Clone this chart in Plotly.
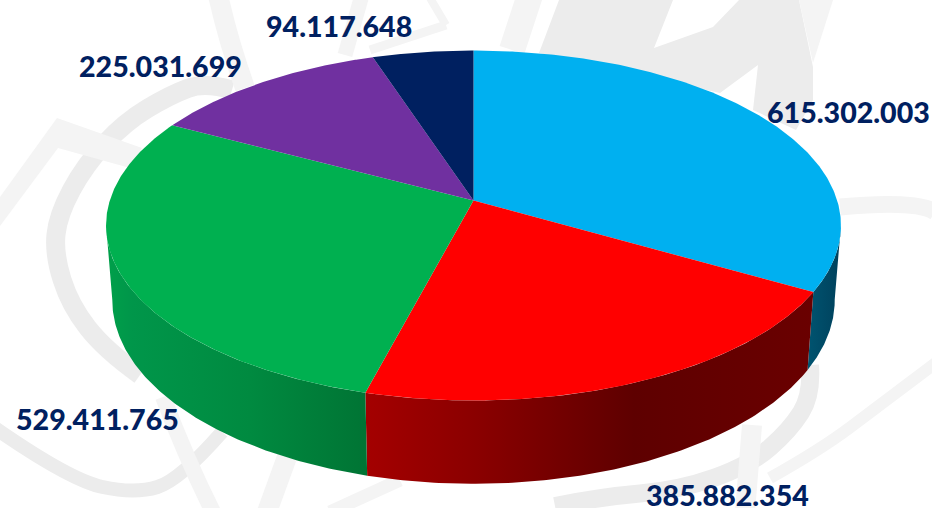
import numpy as np
import plotly.graph_objects as go

# ---- data ----
categories = ["A", "B", "C", "D", "E"]
values = [615302003, 385882354, 529411765, 225031699, 94117648]

# ---- styles ----
top_colors = ["#00B0F0", "#FF0000", "#00B050", "#7030A0", "#002060"]
wall_scales = [
    [[0, "#005470"], [0.5, "#004A66"], [1, "#00415C"]],
    [[0, "#A40000"], [0.25, "#8A0000"], [0.6, "#5E0000"], [1, "#6A0000"]],
    [[0, "#00A04A"], [0.1, "#00964A"], [0.55, "#008A40"], [1, "#007434"]],
    [[0, "#4A2070"], [1, "#4A2070"]],
    [[0, "#001540"], [1, "#001540"]],
]
label_xy = [(848, 112), (727, 495), (97, 419), (160, 66), (339, 26)]
text_color = "#002060"

# ---- projection of the tilted disc onto the page ----
CX, CY = 473.5, 200.5
BX, AY, K = 363.7, 171.4, -1 / 7
WALL_SX, WALL_SY, WALL_DY = 0.983, 1.05, 73.4
VIS_FROM, VIS_TO = 98.0, 262.0


def top_xy(deg):
    t = np.radians(deg)
    u, v = np.sin(t), -np.cos(t)
    d = 1 + K * v
    return CX + BX * u / d, CY + AY * v / d


def low_xy(deg):
    x, y = top_xy(deg)
    return CX + WALL_SX * (x - CX), CY + WALL_DY + WALL_SY * (y - CY)


# ---- faint background watermark (decoration) ----
E8, F0 = "#ECECEC", "#F4F4F4"
bands = [
    (E8, 19, [(140, 375), (105, 350), (70, 305), (54, 254), (58, 215), (85, 165), (125, 122), (170, 95), (205, 82), (232, 90)]),
    (F0, 20, [(218, -5), (228, 40), (245, 88)]),
    (F0, 15, [(362, -5), (345, 55)]),
    (F0, 9, [(446, 25), (370, 50)]),
    (F0, 8, [(430, -2), (446, 25)]),
    (F0, 26, [(530, -5), (512, 50)]),
    (F0, 17, [(840, 207), (916, 200), (935, 212)]),
    (E8, 14, [(-5, 428), (70, 480), (135, 494), (180, 480), (222, 432)]),
    (F0, 16, [(163, 397), (187, 460), (213, 512)]),
    (F0, 20, [(287, 457), (267, 512)]),
    (F0, 13, [(400, 480), (330, 512)]),
    (E8, 18, [(810, 365), (812, 395), (790, 430), (750, 465), (680, 490), (600, 497), (555, 506)]),
    (F0, 12, [(937, 362), (880, 405), (820, 450), (770, 478)]),
    (F0, 20, [(752, 425), (745, 512)]),
]
blobs = [
    (E8, [(559, 0), (539, 53), (720, 93), (758, 65), (753, 110), (796, 130), (813, 100), (813, 67), (799, 0), (739, 0), (713, 27), (654, 48), (673, 0)]),
    (F0, [(799, 0), (833, 0), (813, 63)]),
    (F0, [(0, 197), (57, 118), (142, 148), (130, 168), (58, 148), (0, 226)]),
]


def smooth_path(pts):
    if len(pts) == 2:
        return f"M{pts[0][0]},{pts[0][1]} L{pts[1][0]},{pts[1][1]}"
    p = f"M{pts[0][0]},{pts[0][1]}"
    for i in range(1, len(pts) - 1):
        mx = (pts[i][0] + pts[i + 1][0]) / 2
        my = (pts[i][1] + pts[i + 1][1]) / 2
        if i == len(pts) - 2:
            mx, my = pts[i + 1]
        p += f" Q{pts[i][0]},{pts[i][1]} {mx},{my}"
    return p


shapes = [
    dict(type="path", path=smooth_path(pts), line=dict(color=c, width=w), layer="below", xref="x", yref="y")
    for c, w, pts in bands
]
shapes += [
    dict(type="path", path="M" + " L".join(f"{x},{y}" for x, y in pts) + " Z",
         fillcolor=c, line=dict(width=0), layer="below", xref="x", yref="y")
    for c, pts in blobs
]

# ---- slices, derived from the values ----
total = sum(values)
edges = np.concatenate([[0], np.cumsum(values) / total * 360])

fig = go.Figure()

# side walls first
for i in range(len(values)):
    a0, a1 = max(edges[i], VIS_FROM), min(edges[i + 1], VIS_TO)
    if a1 <= a0:
        continue
    ts = np.linspace(a0, a1, 120)
    tx, ty = top_xy(ts)
    bx, by = low_xy(ts)
    fig.add_trace(go.Scatter(
        x=np.concatenate([tx, bx[::-1]]), y=np.concatenate([ty, by[::-1]]),
        mode="lines", line=dict(width=0), fill="toself",
        fillgradient=dict(type="horizontal", colorscale=wall_scales[i]),
        hoverinfo="skip", showlegend=False,
    ))

# top faces
for i, cat in enumerate(categories):
    ts = np.linspace(edges[i], edges[i + 1], 240)
    ax, ay = top_xy(ts)
    fig.add_trace(go.Scatter(
        x=np.concatenate([[CX], ax, [CX]]), y=np.concatenate([[CY], ay, [CY]]),
        mode="lines", line=dict(width=0), fill="toself", fillcolor=top_colors[i],
        name=cat, showlegend=False,
        hovertext=f"{values[i]:,}".replace(",", "."), hoverinfo="text",
    ))

# value labels
annotations = [
    dict(x=label_xy[i][0], y=label_xy[i][1], xref="x", yref="y", showarrow=False,
         text=f"{v:,}".replace(",", "."), xanchor="center", yanchor="middle",
         font=dict(family="Lato", size=28.6, color=text_color, weight=900))
    for i, v in enumerate(values)
]

fig.update_layout(
    width=932, height=508, autosize=False,
    margin=dict(l=0, r=0, t=0, b=0),
    paper_bgcolor="white", plot_bgcolor="white",
    xaxis=dict(range=[0, 932], visible=False, fixedrange=True),
    yaxis=dict(range=[508, 0], visible=False, fixedrange=True),
    shapes=shapes, annotations=annotations, showlegend=False,
)
fig.write_html("out.html", config=dict(displayModeBar=False),
               post_script="document.body.style.margin='0';")
